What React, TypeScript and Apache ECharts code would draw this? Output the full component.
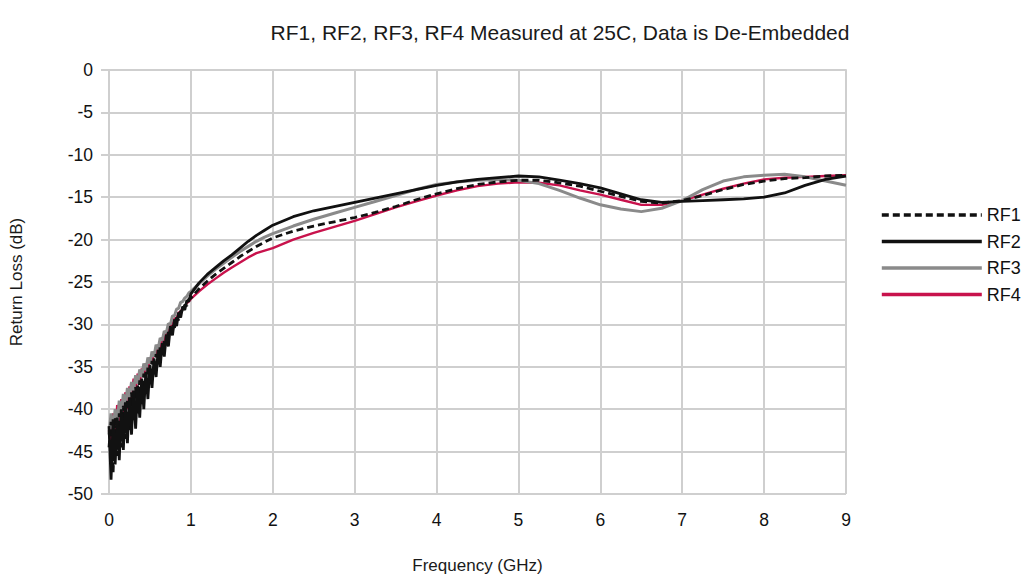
import React, { useEffect, useRef } from "react";
import * as echarts from "echarts";

const freqGHz = [
  0, 0.025, 0.05, 0.075, 0.1, 0.125, 0.15, 0.175, 0.2, 0.225, 0.25, 0.275, 0.3, 0.325, 0.35, 0.375,
  0.4, 0.425, 0.45, 0.475, 0.5, 0.525, 0.55, 0.575, 0.6, 0.625, 0.65, 0.675, 0.7, 0.725, 0.75, 0.775,
  0.8, 0.825, 0.85, 0.875, 0.9, 0.925, 0.95, 0.975, 1.0,
  1.1, 1.2, 1.3, 1.4, 1.5, 1.6, 1.7, 1.8, 1.9, 2.0,
  2.25, 2.5, 2.75, 3.0, 3.25, 3.5, 3.75, 4.0, 4.25, 4.5, 4.75, 5.0, 5.25, 5.5, 5.75, 6.0, 6.25, 6.5,
  6.75, 7.0, 7.25, 7.5, 7.75, 8.0, 8.25, 8.5, 8.75, 9.0,
];

const rf1 = [
  -44.5, -41.5, -47.5, -41.0, -45.5, -40.5, -44.5, -39.6, -43.5, -38.8, -42.5, -38.0, -41.5, -37.4, -40.5, -36.6,
  -39.4, -35.8, -38.2, -35.0, -37.0, -34.3, -35.8, -33.5, -34.6, -32.6, -33.5, -31.8, -32.4, -30.9, -31.4, -30.0,
  -30.4, -29.2, -29.5, -28.4, -28.6, -27.7, -27.8, -27.0, -26.9,
  -25.8, -24.9, -24.1, -23.4, -22.7, -22.0, -21.4, -20.8, -20.3, -19.8,
  -19.0, -18.4, -17.9, -17.4, -16.8, -16.1, -15.3, -14.6, -14.0, -13.5, -13.2, -13.0, -13.0, -13.3, -13.7, -14.3, -14.9, -15.5,
  -15.7, -15.4, -14.8, -14.1, -13.5, -13.1, -12.8, -12.7, -12.5, -12.4,
];

const rf2 = [
  -42.0, -48.3, -41.2, -46.5, -41.0, -46.0, -40.0, -44.8, -39.2, -44.0, -38.6, -43.0, -37.8, -42.3, -37.2, -41.0,
  -36.4, -40.0, -35.6, -38.8, -34.8, -37.5, -34.0, -36.2, -33.0, -35.0, -32.2, -33.8, -31.2, -32.6, -30.2, -31.3,
  -29.4, -30.2, -28.6, -29.2, -27.9, -28.3, -27.2, -27.3, -26.4,
  -25.1, -24.1, -23.3, -22.5, -21.8, -21.0, -20.2, -19.5, -18.9, -18.3,
  -17.3, -16.6, -16.1, -15.6, -15.1, -14.6, -14.1, -13.6, -13.2, -12.9, -12.7, -12.5, -12.6, -13.0, -13.4, -13.9, -14.6, -15.3,
  -15.6, -15.5, -15.4, -15.3, -15.2, -15.0, -14.5, -13.6, -12.9, -12.5,
];

const rf3 = [
  -43.0, -40.5, -42.5, -40.0, -41.8, -39.0, -40.5, -38.2, -39.6, -37.5, -38.6, -36.8, -37.8, -36.0, -37.0, -35.3,
  -36.2, -34.6, -35.4, -33.9, -34.6, -33.2, -33.8, -32.4, -32.9, -31.6, -31.9, -30.8, -31.0, -29.9, -30.0, -29.0,
  -29.0, -28.2, -28.1, -27.4, -27.3, -26.9, -26.7, -26.3, -26.1,
  -25.2, -24.3, -23.5, -22.8, -22.1, -21.4, -20.8, -20.2, -19.7, -19.3,
  -18.4, -17.6, -16.9, -16.2, -15.5, -14.8, -14.1, -13.5, -13.2, -13.0, -12.9, -13.0, -13.4, -14.2, -15.1, -15.9, -16.4, -16.7,
  -16.3, -15.4, -14.1, -13.1, -12.6, -12.4, -12.3, -12.6, -13.1, -13.6,
];

const rf4 = [
  -42.5, -44.5, -40.5, -43.5, -39.5, -42.0, -38.8, -41.0, -38.0, -40.0, -37.3, -39.0, -36.4, -38.0, -35.8, -37.0,
  -35.2, -36.2, -34.6, -35.4, -33.9, -34.6, -33.2, -33.7, -32.4, -32.8, -31.6, -31.9, -30.8, -31.0, -30.0, -30.1,
  -29.3, -29.3, -28.6, -28.5, -28.0, -27.9, -27.5, -27.3, -27.0,
  -26.1, -25.3, -24.6, -23.9, -23.3, -22.7, -22.1, -21.6, -21.3, -21.0,
  -20.0, -19.2, -18.5, -17.8, -17.0, -16.2, -15.5, -14.8, -14.2, -13.7, -13.4, -13.25, -13.3, -13.6, -14.2, -14.7, -15.3, -15.9,
  -15.9, -15.4, -14.7, -14.0, -13.4, -12.9, -12.7, -12.6, -12.5, -12.4,
];

const seriesNames = ["RF1", "RF2", "RF3", "RF4"];

const pair = (vals: number[]) => freqGHz.map((f, i) => [f, vals[i]]);

export default function App() {
  const ref = useRef<HTMLDivElement>(null);
  useEffect(() => {
    if (!ref.current) return;
    const chart = echarts.init(ref.current, undefined, { renderer: "svg" });
    const font = "'Liberation Sans', Arial, sans-serif";
    const gridColor = "#cfcfcf";
    chart.setOption({
      animation: false,
      textStyle: { fontFamily: font },
      title: {
        text: "RF1, RF2, RF3, RF4 Measured at 25C, Data is De-Embedded",
        left: 560,
        textAlign: "center",
        top: 22,
        padding: 0,
        textStyle: { fontSize: 21, fontWeight: "normal", color: "#1a1a1a", fontFamily: font },
      },
      grid: { left: 108, right: 187, top: 70, bottom: 84, containLabel: false },
      legend: {
        orient: "vertical",
        left: 880,
        top: 206,
        padding: 0,
        itemWidth: 100,
        itemHeight: 14,
        itemGap: 8.5,
        data: seriesNames,
        itemStyle: { opacity: 0 },
        lineStyle: { width: 3.6 },
        textStyle: { fontSize: 18, color: "#111", fontFamily: font },
      },
      xAxis: {
        type: "value",
        min: 0,
        max: 9,
        interval: 1,
        name: "Frequency (GHz)",
        nameLocation: "middle",
        nameGap: 63,
        nameTextStyle: { fontSize: 17, color: "#1a1a1a", fontFamily: font },
        axisLine: { show: true, lineStyle: { color: gridColor, width: 2 } },
        axisTick: { show: true, length: 7, lineStyle: { color: gridColor, width: 2 } },
        axisLabel: { fontSize: 17.5, color: "#111", margin: 17, fontFamily: font },
        splitLine: { show: true, lineStyle: { color: gridColor, width: 2 } },
      },
      yAxis: {
        type: "value",
        min: -50,
        max: 0,
        interval: 5,
        name: "Return Loss (dB)",
        nameLocation: "middle",
        nameGap: 84,
        nameRotate: 90,
        nameTextStyle: { fontSize: 17, color: "#1a1a1a", fontFamily: font },
        axisLine: { show: true, lineStyle: { color: gridColor, width: 2 } },
        axisTick: { show: true, length: 8, lineStyle: { color: gridColor, width: 2 } },
        axisLabel: { fontSize: 17.5, color: "#111", margin: 16, fontFamily: font },
        splitLine: { show: true, lineStyle: { color: gridColor, width: 2 } },
      },
      series: [
        {
          name: "RF1",
          type: "line",
          symbol: "none",
          z: 4,
          data: pair(rf1),
          lineStyle: { color: "#111", width: 2.8, type: [7, 4] },
          itemStyle: { color: "#111" },
        },
        {
          name: "RF2",
          type: "line",
          symbol: "none",
          z: 5,
          data: pair(rf2),
          lineStyle: { color: "#111", width: 2.8 },
          itemStyle: { color: "#111" },
        },
        {
          name: "RF3",
          type: "line",
          symbol: "none",
          z: 3,
          data: pair(rf3),
          lineStyle: { color: "#8a8a8a", width: 3 },
          itemStyle: { color: "#8a8a8a" },
        },
        {
          name: "RF4",
          type: "line",
          symbol: "none",
          z: 2,
          data: pair(rf4),
          lineStyle: { color: "#c8124c", width: 2.4 },
          itemStyle: { color: "#c8124c" },
        },
      ],
    });
    return () => chart.dispose();
  }, []);
  return <div ref={ref} style={{ width: 1033, height: 579, position: "absolute", left: 0, top: 0 }} />;
}
